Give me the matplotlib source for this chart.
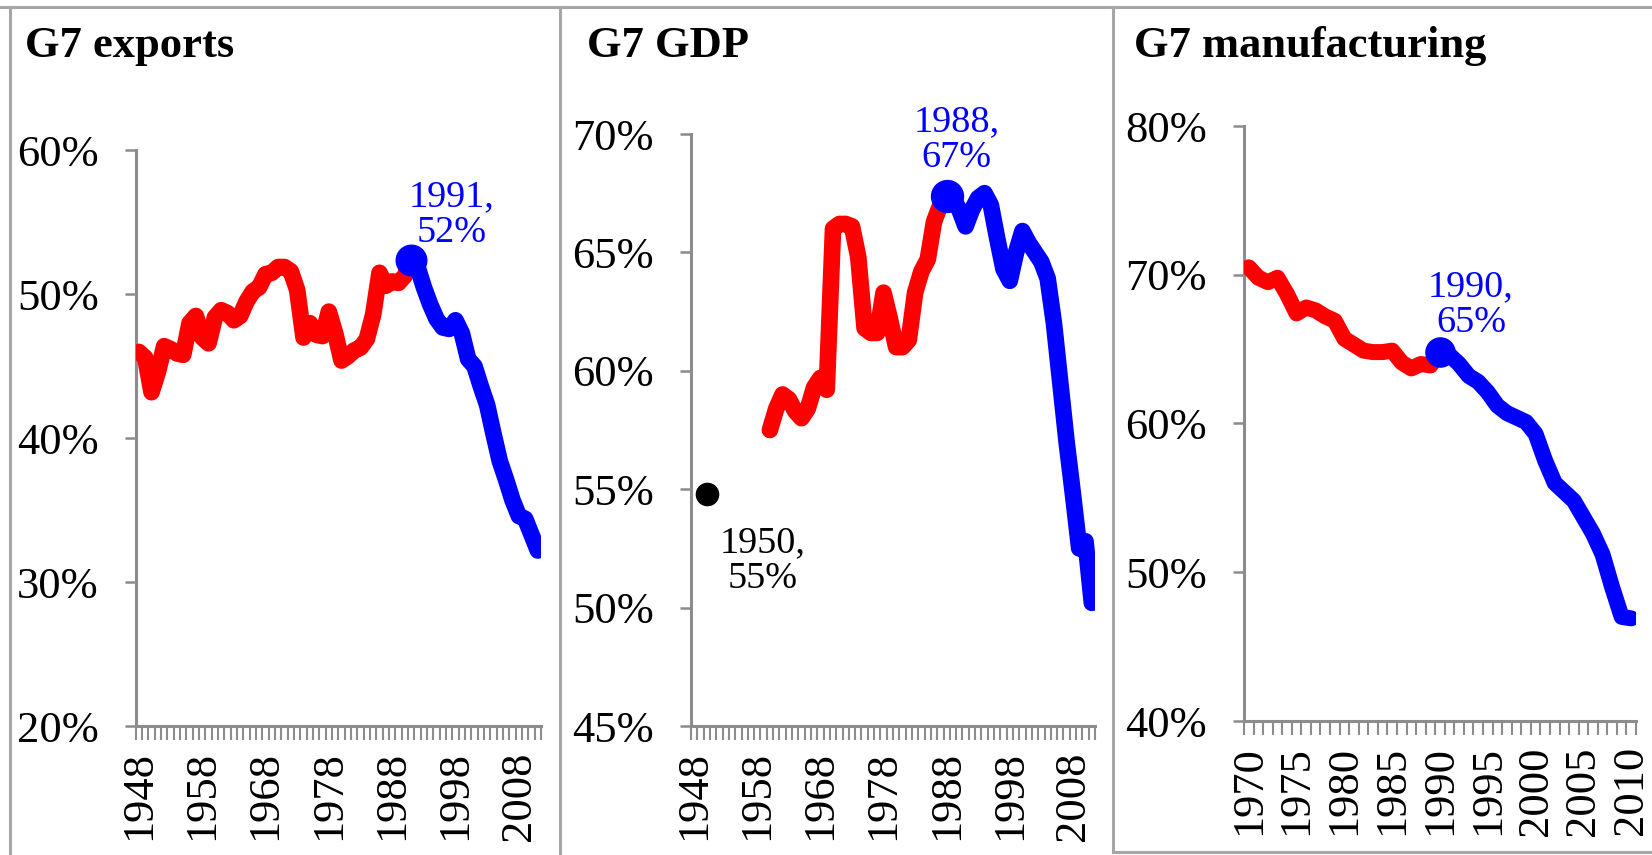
import matplotlib.pyplot as plt
from matplotlib.lines import Line2D
from matplotlib.ticker import FuncFormatter, MultipleLocator

plt.rcParams['font.family'] = ['Liberation Serif', 'DejaVu Serif']

# ---- data (share of world, %) ----
exports_years = list(range(1948, 2012))
exports = [46.0, 45.6, 43.2, 44.6, 46.4, 46.2, 45.9, 45.8, 48.0, 48.5,
           47.0, 46.6, 48.4, 48.9, 48.7, 48.2, 48.5, 49.5, 50.2, 50.5,
           51.4, 51.5, 51.9, 51.9, 51.6, 50.3, 47.0, 48.0, 47.2, 47.1,
           48.8, 47.3, 45.4, 45.7, 46.1, 46.3, 46.9, 48.6, 51.5, 50.6,
           50.9, 50.8, 51.3, 52.4,
           51.9, 50.5, 49.3, 48.3, 47.7, 47.6, 48.2, 47.3, 45.5, 45.0,
           43.6, 42.3, 40.3, 38.4, 37.1, 35.7, 34.6, 34.4, 33.3, 32.2]
exports_peak = 1991

gdp_years = list(range(1960, 2012))
gdp = [57.5, 58.4, 59.0, 58.8, 58.3, 58.0, 58.4, 59.3, 59.7, 59.2,
       66.0, 66.2, 66.2, 66.1, 64.8, 61.8, 61.6, 61.6, 63.3, 62.2,
       61.0, 61.0, 61.3, 63.3, 64.2, 64.7, 66.3, 67.0, 67.4,
       67.3, 66.8, 66.1, 66.8, 67.3, 67.5, 67.0, 65.6, 64.3, 63.8, 65.0,
       65.9, 65.4, 65.0, 64.6, 63.9, 62.0, 59.5, 57.0, 54.8, 52.5, 52.8, 50.2]
gdp_peak = 1988
gdp_1950 = (1950, 54.8)

manuf_years = list(range(1970, 2011))
manuf = [70.5, 69.8, 69.5, 69.8, 68.7, 67.4, 67.8, 67.6, 67.2, 66.9,
         65.7, 65.3, 64.9, 64.8, 64.8, 64.9, 64.1, 63.7, 64.0, 63.9,
         64.8,
         64.6, 64.0, 63.2, 62.8, 62.1, 61.2, 60.7, 60.4, 60.1, 59.3,
         57.5, 56.0, 55.4, 54.8, 53.7, 52.6, 51.2, 49.0, 47.0, 46.9]
manuf_peak = 1990

W, H = 1652, 855
fig = plt.figure(figsize=(W / 100, H / 100), dpi=100)

GRAY = '#8c8c8c'
RED = '#ff0000'
BLUE = '#0000ff'


def px_axes(x0, x1, ytop, ybot):
    return fig.add_axes([x0 / W, 1 - ybot / H, (x1 - x0) / W, (ybot - ytop) / H])


def panel(ax, years, vals, peak, ylim, ystep, first, last, label_step, lw=12, ms=22):
    ax.set_xlim(first - 0.5, last + 0.5)
    ax.set_ylim(*ylim)
    k = years.index(peak)
    ax.plot(years[:k + 1], vals[:k + 1], color=RED, lw=lw,
            solid_capstyle='round', solid_joinstyle='round', zorder=3)
    ax.plot(years[k:], vals[k:], color=BLUE, lw=lw,
            solid_capstyle='round', solid_joinstyle='round', zorder=4)
    ax.plot([peak], [vals[k]], 'o', color=BLUE, ms=ms, zorder=5)

    for s in ['top', 'right']:
        ax.spines[s].set_visible(False)
    for s in ['left', 'bottom']:
        ax.spines[s].set_color(GRAY)
        ax.spines[s].set_linewidth(2.2)

    ax.yaxis.set_major_locator(MultipleLocator(ystep))
    ax.yaxis.set_major_formatter(FuncFormatter(lambda v, p: f'{v:.0f}%'))
    ax.tick_params(axis='y', length=7.7, width=1.8, color=GRAY, pad=19,
                   labelsize=32)

    ax.set_xticks(list(range(first, last + 1, label_step)))
    ax.set_xticks([y - 0.5 for y in range(first, last + 2)], minor=True)
    ax.tick_params(axis='x', which='major', length=0, pad=18, labelsize=32,
                   labelrotation=90)
    ax.tick_params(axis='x', which='minor', length=10, width=1.5, color=GRAY)
    ax.set_facecolor('none')


def note(ax, text, xy, dx, dy, color):
    ax.annotate(text, xy=xy, xytext=(dx, dy), textcoords='offset pixels',
                ha='center', va='baseline', color=color, fontsize=27.5,
                linespacing=1.05)


ax1 = px_axes(135.7, 541, 150.5, 726)
panel(ax1, exports_years, exports, exports_peak, (20, 60), 10, 1948, 2011, 10)
note(ax1, '1991,\n52%', (exports_peak, exports[exports_years.index(exports_peak)]),
     40, 18, BLUE)

ax2 = px_axes(691, 1095, 134, 726)
panel(ax2, gdp_years, gdp, gdp_peak, (45, 70), 5, 1948, 2011, 10, ms=23)
ax2.plot([gdp_1950[0]], [gdp_1950[1]], 'o', color='black', ms=16, zorder=5)
note(ax2, '1988,\n67%', (gdp_peak, gdp[gdp_years.index(gdp_peak)]), 10, 29, BLUE)
note(ax2, '1950,\n55%', gdp_1950, 56, -94, 'black')

ax3 = px_axes(1244, 1636, 126, 721)
panel(ax3, manuf_years, manuf, manuf_peak, (40, 80), 10, 1970, 2010, 5, lw=11.5, ms=21)
note(ax3, '1990,\n65%', (manuf_peak, manuf[manuf_years.index(manuf_peak)]),
     31, 20, BLUE)

# titles
for x, t in [(25, 'G7 exports'), (587, 'G7 GDP'), (1134, 'G7 manufacturing')]:
    fig.text(x / W, 1 - 57 / H, t, fontsize=32, fontweight='bold',
             ha='left', va='baseline')

# panel frames
BORDER = '#a6a6a6'
frame = [((0, W), (7, 7)), ((9.6, 9.6), (7, H)), ((560, 560), (7, H)),
         ((1113, 1113), (7, 852)), ((1113, W), (852, 852))]
for xs, ys in frame:
    fig.add_artist(Line2D([x / W for x in xs], [1 - y / H for y in ys],
                          transform=fig.transFigure, color=BORDER, lw=2.2))

fig.savefig('out.png', dpi=100, facecolor='white')
